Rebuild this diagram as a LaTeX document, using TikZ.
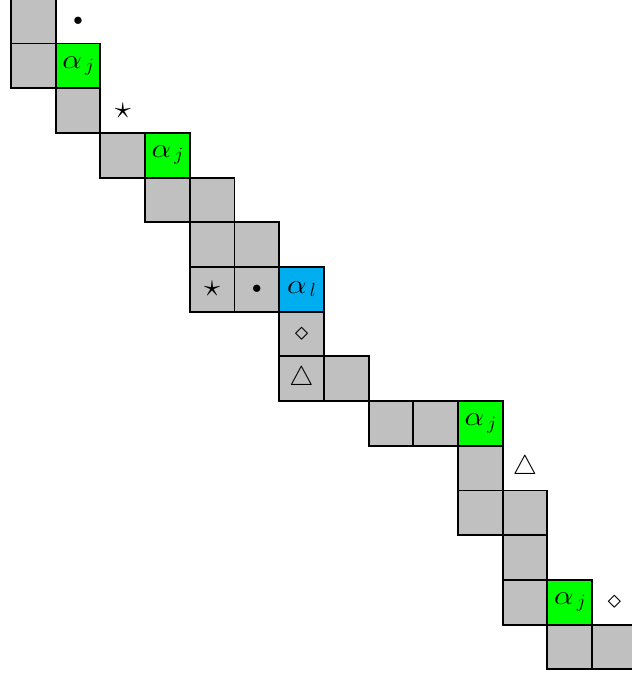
\documentclass[tikz,border=0pt]{standalone}
\usepackage{amssymb}
\usepackage{graphicx}
\definecolor{cellgray}{RGB}{192,192,192}
\definecolor{cellgreen}{RGB}{0,255,0}
\definecolor{cellblue}{RGB}{0,174,239}
\newcommand{\symStar}{{\fontsize{21}{24}\selectfont$\star$}}
\newcommand{\symDot}{{\fontsize{13}{15}\selectfont$\bullet$}}
\newcommand{\symDia}{{\fontsize{19}{22}\selectfont$\diamond$}}
\newcommand{\symTri}{{\fontsize{17}{20}\selectfont$\triangle$}}
\newcommand{\alsub}[1]{{\fontsize{17}{20}\selectfont\scalebox{1.15}[1]{$\alpha$}\kern2pt\raisebox{-0.3ex}{\fontsize{12.5}{14}\selectfont$#1$}}}
\begin{document}
\begin{tikzpicture}[
  cell/.style={draw=black, line width=1.2pt, fill=cellgray, minimum size=1cm, inner sep=0pt, outer sep=0pt},
  gcell/.style={cell, fill=cellgreen},
  bcell/.style={cell, fill=cellblue},
  symb/.style={inner sep=0pt}
]
\useasboundingbox (-0.246,-15.15) rectangle (13.89,-0.027);
\clip (-0.246,-15.15) rectangle (13.89,-0.027);
% row 0
\node[cell] (r0c0) at (0.5,-0.5) {};
\node[symb] (m1) at (1.5,-0.5) {\symDot};
% row 1
\node[cell] (r1c0) at (0.5,-1.5) {};
\node[gcell] (r1c1) at (1.5,-1.5) {\alsub{j}};
% row 2
\node[cell] (r2c1) at (1.5,-2.5) {};
\node[symb] (m2) at (2.5,-2.5) {\symStar};
% row 3
\node[cell] (r3c2) at (2.5,-3.5) {};
\node[gcell] (r3c3) at (3.5,-3.5) {\alsub{j}};
% row 4
\node[cell] (r4c3) at (3.5,-4.5) {};
\node[cell] (r4c4) at (4.5,-4.5) {};
% row 5
\node[cell] (r5c4) at (4.5,-5.5) {};
\node[cell] (r5c5) at (5.5,-5.5) {};
% row 6
\node[cell] (r6c4) at (4.5,-6.5) {\symStar};
\node[cell] (r6c5) at (5.5,-6.5) {\symDot};
\node[bcell] (r6c6) at (6.5,-6.5) {\alsub{l}};
% row 7
\node[cell] (r7c6) at (6.5,-7.5) {\symDia};
% row 8
\node[cell] (r8c6) at (6.5,-8.5) {\symTri};
\node[cell] (r8c7) at (7.5,-8.5) {};
% row 9
\node[cell] (r9c8) at (8.5,-9.5) {};
\node[cell] (r9c9) at (9.5,-9.5) {};
\node[gcell] (r9c10) at (10.5,-9.5) {\alsub{j}};
% row 10
\node[cell] (r10c10) at (10.5,-10.5) {};
\node[symb] (m3) at (11.5,-10.5) {\symTri};
% row 11
\node[cell] (r11c10) at (10.5,-11.5) {};
\node[cell] (r11c11) at (11.5,-11.5) {};
% row 12
\node[cell] (r12c11) at (11.5,-12.5) {};
% row 13
\node[cell] (r13c11) at (11.5,-13.5) {};
\node[gcell] (r13c12) at (12.5,-13.5) {\alsub{j}};
\node[symb] (m4) at (13.5,-13.5) {\symDia};
% row 14
\node[cell] (r14c12) at (12.5,-14.5) {};
\node[cell] (r14c13) at (13.5,-14.5) {};
\end{tikzpicture}
\end{document}
